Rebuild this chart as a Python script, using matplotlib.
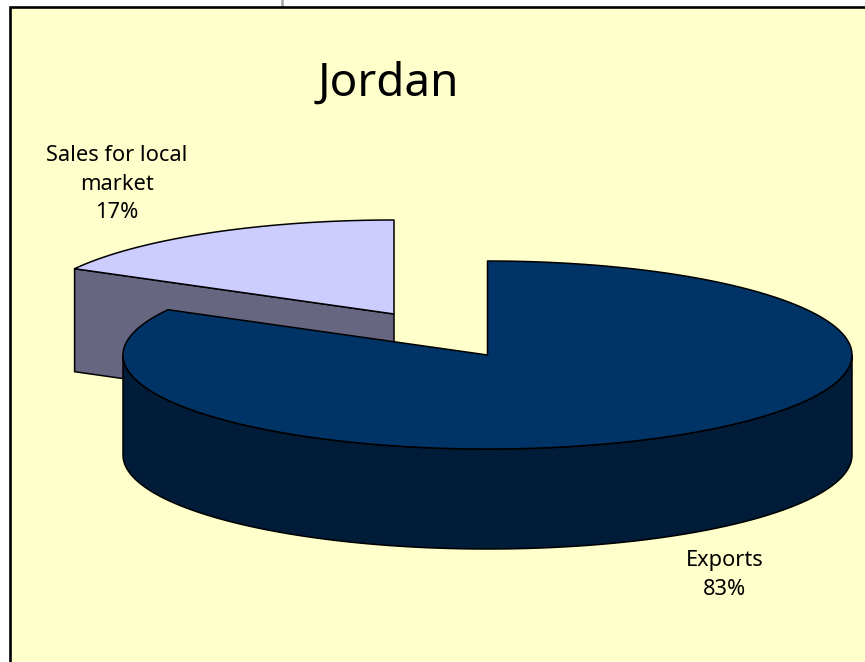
import numpy as np
import matplotlib
matplotlib.use("Agg")
import matplotlib.pyplot as plt
from matplotlib.patches import Polygon, Rectangle

title = "Jordan"
labels = ["Exports", "Sales for local\nmarket"]
shares = [83, 17]

top_color = ["#003366", "#CCCCFF"]
side_color = ["#001C38", "#666680"]

plt.rcParams["font.family"] = ["Noto Sans", "DejaVu Sans"]

fig = plt.figure(figsize=(8.65, 6.62), dpi=100, facecolor="white")
ax = fig.add_axes([0, 0, 1, 1])
ax.set_xlim(0, 865)
ax.set_ylim(662, 0)
ax.axis("off")

# chart panel and the stub of the rule above it
ax.plot([282, 282], [0, 7], color="#A6A6A6", lw=1.8, zorder=1)
ax.add_patch(Rectangle((10, 7), 900, 700, fc="#FFFFCC", ec="black", lw=1.9, zorder=1))

rx, ry, depth = 364.5, 94, 100
centers = [(487.5, 355), (394, 314)]


def rim(cx, cy, a0, a1):
    # angles in degrees, clockwise from 12 o'clock
    a = np.radians(np.linspace(a0, a1, 240))
    return np.column_stack([cx + rx * np.sin(a), cy - ry * np.cos(a)])


def shape(pts, color, z):
    ax.add_patch(Polygon(pts, closed=True, fc=color, ec="black", lw=1.1, joinstyle="round", zorder=z))


# the small slice sits behind, so it goes first
small = shares[1] / sum(shares) * 360
cx, cy = centers[1]
edge = rim(cx, cy, 360 - small, 360)
shape([edge[0], (cx, cy), (cx, cy + depth + 3), edge[0] + (0, depth + 3)], side_color[1], 2)
shape(np.vstack([edge, [(cx, cy)]]), top_color[1], 3)

# big slice: front wall, then the top face
big = shares[0] / sum(shares) * 360
cx, cy = centers[0]
front = rim(cx, cy, 90, 270)
shape(np.vstack([front, front[::-1] + (0, depth)]), side_color[0], 4)
edge = rim(cx, cy, 0, big)
shape(np.vstack([edge, [(cx, cy)]]), top_color[0], 5)

ax.text(388, 84, title, fontsize=33, ha="center", va="center", color="black", zorder=6)
ax.text(117, 184, f"{labels[1]}\n{shares[1]}%", fontsize=15.7, ha="center", va="center",
        linespacing=1.48, color="black", zorder=6)
ax.text(725, 575, f"{labels[0]}\n{shares[0]}%", fontsize=15.7, ha="center", va="center",
        linespacing=1.48, color="black", zorder=6)

fig.savefig("out.png", dpi=100)
